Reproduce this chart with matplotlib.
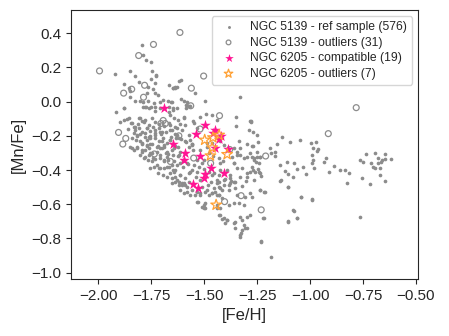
import matplotlib
matplotlib.use("Agg")
import matplotlib.pyplot as plt
import seaborn as sns
import numpy as np

# NGC 5139 reference sample (approximate)
ref_feh = [
    -1.795, -1.790, -1.777, -1.754, -1.922, -1.853, -1.829, -1.747, -1.730, -1.807,
    -1.750, -1.735, -1.881, -1.858, -1.853, -1.766, -1.743, -1.668, -1.648, -1.769,
    -1.735, -1.720, -1.850, -1.826, -1.802, -1.788, -1.766, -1.738, -1.708, -1.695,
    -1.672, -1.653, -1.877, -1.790, -1.774, -1.754, -1.732, -1.711, -1.668, -1.648,
    -1.618, -1.648, -1.637, -1.543, -1.658, -1.609, -1.598, -1.587, -1.574, -1.495,
    -1.330, -1.648, -1.629, -1.587, -1.728, -1.640, -1.629, -1.608, -1.582, -1.519,
    -1.492, -1.463, -1.440, -1.350, -1.277, -1.250, -1.271, -1.337, -1.597, -1.550,
    -1.534, -1.660, -1.771, -1.740, -1.826, -1.802, -1.858, -1.845, -1.818, -1.763,
    -1.732, -1.708, -1.660, -1.629, -1.795, -1.755, -1.724, -1.692, -1.850, -1.590,
    -1.574, -1.487, -1.878, -1.782, -1.763, -1.731, -1.665, -1.865, -1.881, -1.810,
    -1.795, -1.779, -1.747, -1.834, -1.826, -1.807, -1.795, -1.771, -1.755, -1.731,
    -1.716, -1.660, -1.653, -1.842, -1.821, -1.802, -1.779, -1.771, -1.755, -1.731,
    -1.716, -1.697, -1.676, -1.664, -1.818, -1.834, -1.795, -1.779, -1.763, -1.747,
    -1.724, -1.708, -1.692, -1.676, -1.653, -1.787, -1.766, -1.747, -1.731, -1.708,
    -1.692, -1.672, -1.739, -1.716, -1.692, -1.668, -1.648, -1.697, -1.676, -1.653,
    -1.719, -1.755, -1.566, -1.661, -1.645, -1.626, -1.598, -1.590, -1.551, -1.282,
    -1.349, -1.290, -1.271, -1.630, -1.606, -1.637, -1.574, -1.566, -1.645, -1.622,
    -1.614, -1.558, -1.551, -1.487, -1.464, -1.424, -1.409, -1.361, -1.345, -1.330,
    -1.298, -1.267, -1.235, -1.369, -1.361, -1.432, -1.424, -1.535, -1.511, -1.645,
    -1.630, -1.424, -1.393, -1.345, -1.282, -1.235, -1.566, -1.535, -1.645, -1.614,
    -1.464, -1.440, -1.377, -1.298, -1.267, -1.630, -1.598, -1.432, -1.409, -1.377,
    -1.353, -1.301, -1.424, -1.385, -1.353, -1.322, -1.235, -1.211, -1.140, -1.104,
    -1.041, -0.991, -1.432, -1.416, -1.440, -1.345, -1.306, -1.282, -1.385, -1.361,
    -1.338, -1.314, -1.424, -1.077, -1.432, -1.416, -1.393, -1.400, -1.353, -1.330,
    -1.298, -1.286, -1.219, -1.104, -1.062, -1.353, -1.309, -1.298, -1.325, -1.330,
    -1.230, -1.185, -1.653, -1.637, -1.621, -1.605, -1.589, -1.574, -1.613, -1.597,
    -1.582, -1.566, -1.542, -1.518, -1.495, -1.479, -1.463, -1.447, -1.432, -1.511,
    -1.484, -1.455, -1.432, -1.531, -1.511, -1.495, -1.495, -1.277, -1.132, -1.050,
    -1.247, -1.274, -1.190, -1.156, -1.097, -0.998, -0.970, -0.985, -0.967, -0.962,
    -1.250, -1.187, -1.167, -1.164, -0.990, -0.987, -0.993, -0.927, -0.932, -1.274,
    -1.263, -1.254, -1.238, -1.140, -1.108, -1.077, -1.033, -0.982, -1.269, -1.247,
    -1.243, -1.120, -1.105, -1.082, -1.061, -1.021, -0.911, -0.888, -0.859, -0.836,
    -0.815, -1.230, -1.137, -1.104, -0.825, -0.735, -0.694, -0.646, -0.762, -0.749,
    -0.714, -0.703, -0.695, -0.678, -0.667, -0.680, -0.659, -0.646, -0.620, -0.670,
    -0.757, -0.719, -0.672, -0.646, -0.762, -1.235, -1.216, -1.274, -1.041, -1.082,
    -1.061, -1.104, -1.222, -0.990, -1.230, -1.842, -1.818, -1.795, -1.771, -1.802,
    -1.779, -1.755, -1.740, -1.708, -1.692, -1.676, -1.724, -1.708, -1.676, -1.653,
    -1.637, -1.613, -1.660, -1.637, -1.613, -1.590, -1.574, -1.621, -1.605, -1.582,
    -1.558, -1.534, -1.518, -1.534, -1.503, -1.503, -1.440, -1.424, -1.408, -1.392,
    -1.361, -1.321, -1.313, -1.329, -1.321, -1.440, -1.408, -1.385, -1.361, -1.329,
    -1.298, -1.258, -1.487, -1.463, -1.440, -1.416, -1.345, -1.313, -1.282, -1.250,
    -1.361, -1.321, -1.274, -1.243, -1.700, -1.620, -1.560, -1.480, -1.520, -1.600,
    -1.680, -1.640, -1.580, -1.500, -1.460, -1.540, -1.620, -1.700, -1.760, -1.820,
    -1.860, -1.900, -1.915, -1.560, -1.470, -1.410, -1.380, -1.330, -1.300, -1.520,
    -1.840, -1.812, -1.786, -1.760, -1.735, -1.712, -1.690, -1.665, -1.640, -1.615,
    -1.830, -1.805, -1.780, -1.757, -1.733, -1.705, -1.683, -1.659, -1.632, -1.608,
    -1.585, -1.560, -1.795, -1.770, -1.745, -1.720, -1.698, -1.672, -1.648, -1.622,
    -1.600, -1.575, -1.548, -1.525, -1.500, -1.478, -1.455, -1.430, -1.402, -1.375,
]
ref_mnfe = [
    0.334, 0.275, 0.244, 0.232, 0.162, 0.182, 0.151, 0.182, 0.152, 0.117,
    0.133, 0.108, 0.102, 0.078, 0.065, 0.088, 0.073, 0.096, 0.078, 0.051,
    0.049, 0.039, 0.030, 0.004, 0.004, 0.000, 0.006, -0.005, 0.000, 0.008,
    0.004, -0.002, -0.035, -0.029, -0.033, -0.033, -0.033, -0.039, -0.029, -0.048,
    0.123, 0.082, 0.082, 0.049, 0.000, 0.014, 0.004, -0.017, -0.023, 0.004,
    0.030, -0.039, -0.039, -0.039, 0.156, 0.084, 0.084, 0.127, -0.003, -0.087,
    -0.072, -0.077, -0.107, -0.091, -0.115, -0.194, -0.259, -0.228, -0.097, -0.126,
    -0.155, -0.165, -0.155, -0.146, -0.146, -0.097, -0.097, -0.126, -0.194, -0.204,
    -0.194, -0.175, -0.224, -0.194, -0.243, -0.247, -0.263, -0.253, -0.263, -0.233,
    -0.263, -0.243, -0.035, -0.029, -0.038, -0.054, -0.058, -0.103, -0.107, -0.097,
    -0.116, -0.107, -0.097, -0.146, -0.165, -0.155, -0.175, -0.155, -0.171, -0.165,
    -0.152, -0.136, -0.165, -0.214, -0.224, -0.233, -0.204, -0.224, -0.214, -0.210,
    -0.230, -0.214, -0.243, -0.224, -0.272, -0.282, -0.292, -0.282, -0.311, -0.302,
    -0.292, -0.272, -0.263, -0.292, -0.282, -0.331, -0.341, -0.350, -0.335, -0.331,
    -0.350, -0.341, -0.380, -0.389, -0.389, -0.380, -0.399, -0.428, -0.438, -0.444,
    -0.419, -0.389, -0.023, -0.077, -0.097, -0.107, -0.087, -0.136, -0.116, -0.113,
    -0.142, -0.165, -0.179, -0.155, -0.165, -0.190, -0.194, -0.224, -0.272, -0.263,
    -0.292, -0.253, -0.282, -0.263, -0.243, -0.233, -0.253, -0.272, -0.292, -0.311,
    -0.321, -0.331, -0.321, -0.321, -0.360, -0.331, -0.360, -0.341, -0.360, -0.350,
    -0.370, -0.399, -0.399, -0.389, -0.409, -0.419, -0.409, -0.409, -0.409, -0.428,
    -0.428, -0.458, -0.448, -0.438, -0.458, -0.458, -0.477, -0.468, -0.487, -0.477,
    -0.468, -0.464, -0.507, -0.516, -0.507, -0.493, -0.516, -0.528, -0.464, -0.497,
    -0.555, -0.575, -0.546, -0.565, -0.604, -0.546, -0.555, -0.536, -0.604, -0.594,
    -0.594, -0.604, -0.624, -0.639, -0.663, -0.688, -0.692, -0.711, -0.702, -0.672,
    -0.672, -0.663, -0.682, -0.702, -0.682, -0.741, -0.741, -0.741, -0.766, -0.789,
    -0.819, -0.910, -0.477, -0.468, -0.487, -0.474, -0.487, -0.468, -0.516, -0.536,
    -0.526, -0.546, -0.546, -0.536, -0.526, -0.546, -0.536, -0.526, -0.546, -0.497,
    -0.487, -0.507, -0.497, -0.585, -0.614, -0.594, -0.624, -0.117, -0.204, -0.224,
    -0.236, -0.259, -0.269, -0.249, -0.238, -0.243, -0.238, -0.269, -0.286, -0.278,
    -0.292, -0.302, -0.296, -0.316, -0.312, -0.341, -0.360, -0.331, -0.355, -0.325,
    -0.341, -0.353, -0.321, -0.370, -0.355, -0.356, -0.380, -0.386, -0.399, -0.395,
    -0.409, -0.405, -0.425, -0.442, -0.393, -0.425, -0.409, -0.374, -0.399, -0.399,
    -0.415, -0.434, -0.458, -0.497, -0.473, -0.306, -0.302, -0.306, -0.341, -0.351,
    -0.356, -0.380, -0.389, -0.331, -0.351, -0.356, -0.341, -0.337, -0.337, -0.386,
    -0.448, -0.481, -0.429, -0.464, -0.672, -0.516, -0.526, -0.559, -0.555, -0.633,
    -0.682, -0.701, -0.682, -0.571, -0.818, -0.273, -0.263, -0.282, -0.253, -0.312,
    -0.321, -0.302, -0.331, -0.312, -0.341, -0.321, -0.370, -0.390, -0.380, -0.370,
    -0.399, -0.360, -0.419, -0.438, -0.428, -0.448, -0.419, -0.468, -0.487, -0.497,
    -0.516, -0.526, -0.546, -0.585, -0.604, -0.624, -0.624, -0.663, -0.682, -0.692,
    -0.711, -0.692, -0.721, -0.780, -0.750, -0.477, -0.458, -0.487, -0.468, -0.438,
    -0.419, -0.409, -0.516, -0.536, -0.546, -0.516, -0.312, -0.331, -0.302, -0.321,
    -0.360, -0.390, -0.380, -0.360, -0.180, -0.210, -0.250, -0.300, -0.280, -0.380,
    -0.300, -0.260, -0.360, -0.340, -0.320, -0.440, -0.310, -0.230, -0.270, -0.200,
    -0.160, -0.120, -0.060, -0.400, -0.470, -0.350, -0.430, -0.270, -0.250, -0.460,
    -0.125, -0.132, -0.120, -0.138, -0.118, -0.128, -0.145, -0.122, -0.148, -0.130,
    -0.185, -0.192, -0.182, -0.198, -0.186, -0.190, -0.178, -0.205, -0.212, -0.220,
    -0.236, -0.250, -0.245, -0.258, -0.250, -0.262, -0.270, -0.305, -0.312, -0.318,
    -0.350, -0.362, -0.372, -0.380, -0.395, -0.410, -0.420, -0.432, -0.450, -0.462,
]

# NGC 5139 outliers
out_feh = [-1.995, -1.615, -1.740, -1.810, -1.503, -1.843, -1.881, -1.782, -1.787, -1.561,
           -1.564, -1.428, -1.905, -1.871, -1.885, -1.705, -1.684, -1.694, -0.782, -0.914,
           -1.210, -1.231, -1.404, -1.326, -1.736, -1.620, -1.550, -1.470, -1.660, -1.520,
           -1.380]
out_mnfe = [0.180, 0.405, 0.335, 0.270, 0.150, 0.073, 0.050, 0.096, 0.026, 0.079,
            -0.024, -0.082, -0.180, -0.215, -0.248, -0.128, -0.128, -0.110, -0.035, -0.187,
            -0.318, -0.633, -0.585, -0.550, -0.306, -0.200, -0.330, -0.360, -0.350, -0.160,
            -0.280]

# NGC 6205 compatible stars
comp_feh = [-1.688, -1.498, -1.451, -1.538, -1.419, -1.649, -1.449, -1.388, -1.590, -1.519,
            -1.596, -1.467, -1.405, -1.498, -1.500, -1.553, -1.528, -1.460, -1.430]
comp_mnfe = [-0.035, -0.136, -0.165, -0.190, -0.199, -0.245, -0.269, -0.277, -0.303, -0.318,
             -0.341, -0.386, -0.415, -0.423, -0.444, -0.479, -0.506, -0.185, -0.220]

# NGC 6205 outliers
o62_feh = [-1.498, -1.459, -1.430, -1.463, -1.471, -1.392, -1.444]
o62_mnfe = [-0.224, -0.210, -0.195, -0.269, -0.316, -0.308, -0.604]

sns.set_style("ticks")
plt.rcParams["font.family"] = ["Liberation Sans", "DejaVu Sans"]

fig = plt.figure(figsize=(4.49, 3.36), dpi=100)
ax = fig.add_axes([0.158, 0.170, 0.773, 0.800])

ax.scatter(ref_feh, ref_mnfe, s=7, color="#8c8c8c", linewidths=0,
           label="NGC 5139 - ref sample (576)")
ax.scatter(out_feh, out_mnfe, s=18, facecolors="none", edgecolors="#8c8c8c",
           linewidths=0.9, label="NGC 5139 - outliers (31)")
ax.scatter(comp_feh, comp_mnfe, s=65, marker="*", color="#ff1493", linewidths=0,
           label="NGC 6205 - compatible (19)")
ax.scatter(o62_feh, o62_mnfe, s=65, marker="*", facecolors="none",
           edgecolors="#ffa033", linewidths=0.9, label="NGC 6205 - outliers (7)")

ax.set_xlim(-2.13, -0.49)
ax.set_ylim(-1.037, 0.536)
ax.set_xticks(np.arange(-2.0, -0.49, 0.25))
ax.set_yticks(np.arange(-1.0, 0.41, 0.2))
ax.tick_params(labelsize=11)
ax.set_xlabel("[Fe/H]", fontsize=12)
ax.set_ylabel("[Mn/Fe]", fontsize=12)
ax.legend(loc="upper right", fontsize=8.7, frameon=True, labelspacing=0.3,
          markerscale=0.8)

fig.savefig("out.png", dpi=100)
